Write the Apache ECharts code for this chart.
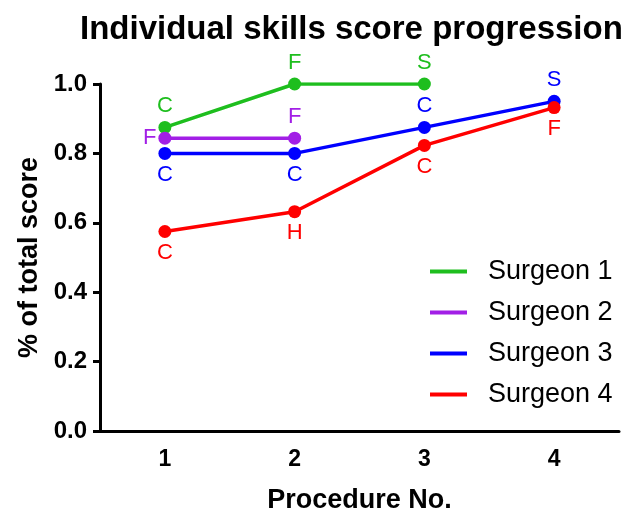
<!DOCTYPE html>
<html>
<head>
<meta charset="utf-8">
<script src="https://cdn.jsdelivr.net/npm/echarts@6/dist/echarts.min.js"></script>
<style>
  html, body { margin: 0; padding: 0; background: #fff; }
  #chart { width: 636px; height: 512px; }
</style>
</head>
<body>
<div id="chart"></div>
<script>
  // procedure numbers on the x axis
  var procedures = ['1', '2', '3', '4']
  // scores per surgeon (null = no procedure)
  var surgeon1 = [0.875, 1.0, 1.0, null]
  var surgeon2 = [0.844, 0.844, null, null]
  var surgeon3 = [0.80, 0.80, 0.875, 0.95]
  var surgeon4 = [0.575, 0.632, 0.823, 0.932]
  // letter grades shown next to each point
  var grades1 = ['C', 'F', 'S', '']
  var grades2 = ['F', 'F', '', '']
  var grades3 = ['C', 'C', 'C', 'S']
  var grades4 = ['C', 'H', 'C', 'F']
  // where each letter sits relative to its point
  var pos1 = ['top', 'top', 'top', 'top']
  var pos2 = ['left', 'top', 'top', 'top']
  var pos3 = ['bottom', 'bottom', 'top', 'top']
  var pos4 = ['bottom', 'bottom', 'bottom', 'bottom']

  var colors = ['#1ebe1e', '#a21fe6', '#0000ff', '#ff0000']
  var font = 'Liberation Sans, Arial, sans-serif'

  function buildData(values, grades, pos, color) {
    return values.map(function (v, i) {
      if (v === null) return null
      return {
        value: v,
        label: {
          show: true,
          formatter: grades[i],
          position: pos[i],
          distance: (pos[i] === 'left') ? 2 : 4,
          color: color,
          fontSize: 22,
          fontFamily: font
        }
      }
    })
  }

  function makeSeries(name, values, grades, pos, color) {
    return {
      name: name,
      type: 'line',
      data: buildData(values, grades, pos, color),
      symbol: 'circle',
      symbolSize: 13,
      connectNulls: false,
      itemStyle: { color: color },
      lineStyle: { color: color, width: 3.5 },
      emphasis: { disabled: true }
    }
  }

  var chart = echarts.init(document.getElementById('chart'))
  var option = {
    animation: false,
    color: colors,
    title: {
      text: 'Individual skills score progression',
      left: 75,
      top: 8,
      textStyle: { fontSize: 33, fontWeight: 'bold', color: '#000', fontFamily: font }
    },
    grid: { left: 100, right: 17, top: 84, bottom: 81, outerBoundsMode: 'none' },
    legend: {
      orient: 'vertical',
      left: 430,
      top: 258,
      padding: 0,
      itemWidth: 37,
      itemHeight: 4,
      itemGap: 14,
      icon: 'rect',
      textStyle: { fontSize: 27, color: '#000', fontFamily: font, padding: [0, 0, 0, 16] },
      data: ['Surgeon 1', 'Surgeon 2', 'Surgeon 3', 'Surgeon 4']
    },
    xAxis: {
      type: 'category',
      data: procedures,
      boundaryGap: true,
      name: 'Procedure No.',
      nameLocation: 'middle',
      nameGap: 56,
      nameTextStyle: { fontSize: 27, fontWeight: 'bold', color: '#000', fontFamily: font },
      axisLine: { lineStyle: { color: '#000', width: 3 } },
      axisTick: { alignWithLabel: true, length: 7, lineStyle: { width: 3, color: '#000' } },
      axisLabel: { fontSize: 23, fontWeight: 'bold', color: '#000', fontFamily: font, margin: 17 },
      splitLine: { show: false }
    },
    yAxis: {
      type: 'value',
      min: 0,
      max: 1.0,
      interval: 0.2,
      name: '% of total score',
      nameLocation: 'middle',
      nameGap: 57,
      nameTextStyle: { fontSize: 27, fontWeight: 'bold', color: '#000', fontFamily: font },
      axisLine: { show: true, lineStyle: { color: '#000', width: 3 } },
      axisTick: { show: true, length: 7, lineStyle: { width: 3, color: '#000' } },
      axisLabel: {
        fontSize: 24, fontWeight: 'bold', color: '#000', fontFamily: font, margin: 13,
        formatter: function (v) { return v.toFixed(1) }
      },
      splitLine: { show: false }
    },
    series: [
      makeSeries('Surgeon 1', surgeon1, grades1, pos1, colors[0]),
      makeSeries('Surgeon 2', surgeon2, grades2, pos2, colors[1]),
      makeSeries('Surgeon 3', surgeon3, grades3, pos3, colors[2]),
      makeSeries('Surgeon 4', surgeon4, grades4, pos4, colors[3])
    ]
  }
  chart.setOption(option)
</script>
</body>
</html>
